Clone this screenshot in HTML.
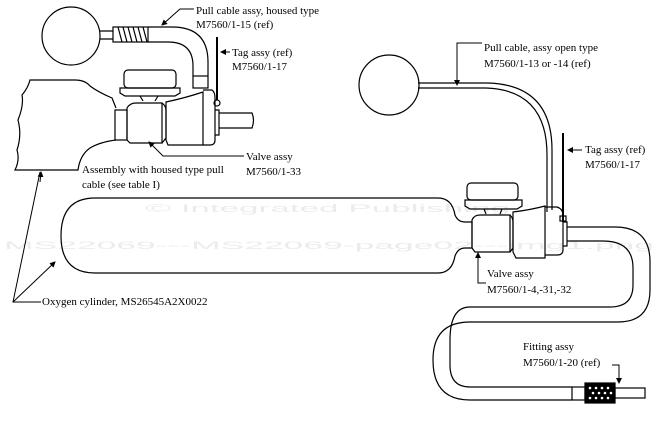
<!DOCTYPE html>
<html><head><meta charset="utf-8"><style>
html,body{margin:0;padding:0;background:#fff;}
svg{display:block;}
text{font-family:"Liberation Serif",serif;font-size:11px;fill:#000;}
.wm{font-family:"Liberation Sans",sans-serif;fill:#ececec;}
</style></head><body>
<svg width="656" height="435" viewBox="0 0 656 435" xmlns="http://www.w3.org/2000/svg">
<defs>
<marker id="ar" markerWidth="6" markerHeight="6" refX="5" refY="3" orient="auto" markerUnits="userSpaceOnUse">
<path d="M0,0 L6,3 L0,6 z" fill="#000"/></marker>
</defs>
<!-- watermark -->
<text class="wm" x="145" y="212" font-size="31" textLength="365" lengthAdjust="spacingAndGlyphs">© Integrated Publishing</text>
<text class="wm" x="4" y="249" font-size="34" textLength="650" lengthAdjust="spacingAndGlyphs">MS22069---MS22069-page02---img1.png</text>

<g fill="none" stroke="#000" stroke-width="1.2">
<!-- top-left assembly -->
<circle cx="71" cy="36" r="29"/>
<path d="M100,31 H113 M100,39 H113"/>
<rect x="113" y="27" width="35" height="15"/>
<path d="M118,27 l4,15 M123,27 l4,15 M128,27 l4,15 M133,27 l4,15 M138,27 l4,15 M143,27 l4,15"/>
<path d="M148,27 H172 Q208,27 208,62 V76"/>
<path d="M148,42 H168 Q193,42 193,66 V76"/>
<rect x="193" y="76" width="15" height="12"/>
<path d="M217,37 V100" stroke-width="2"/>
<circle cx="217" cy="103" r="3"/>
<!-- broken tank -->
<path d="M116,108 L112,98 Q98,92 90,86 Q85,80 75,80 H30 Q28,88 22,95 Q24,105 18,120 Q22,135 17,150 Q20,160 15,170 H78 Q80,155 90,148 Q100,142 116,140"/>
<!-- valve left -->
<rect x="124" y="70" width="52" height="18" rx="4"/>
<path d="M120,88 H180 V93 L175,96 H125 L120,93 Z"/>
<path d="M140,96 L143,101 M158,96 L155,101"/>
<rect x="115" y="110" width="12" height="30"/>
<path d="M127,108 Q130,103 136,103 H162 V143 H130 L127,140 Z"/>
<path d="M162,103 Q166,106 166,110 V138 L162,143"/>
<path d="M166,102 Q185,98 203,92 V145 H168 L166,140 Z"/>
<path d="M203,90 H212 Q215,92 215,98 V140 Q215,145 210,145 H203"/>
<path d="M215,110 H219 V135 H215"/>
<path d="M219,113 H252 Q255,120 252,128 H219"/>
<!-- cylinder -->
<path d="M465,222 Q458,222 455,215 Q452,198 438,198 H95 Q61,198 61,236 Q61,273 95,273 H438 Q452,273 455,256 Q458,248 465,248"/>
<!-- valve right -->
<rect x="467" y="183" width="51" height="17" rx="4"/>
<path d="M465,200 H522 V206 L517,209 H470 L465,206 Z"/>
<path d="M484,209 L486,214 M502,209 L500,214"/>
<path d="M465,222 H472 V248 H465"/>
<path d="M472,220 Q474,215 480,215 H510 V252 H475 L472,248 Z"/>
<path d="M510,215 Q513,218 513,222 V248 L510,252"/>
<path d="M513,212 Q530,210 545,206 V258 H516 L513,252 Z"/>
<path d="M545,207 H557 Q563,209 563,215 V250 Q563,255 557,255 H545"/>
<path d="M563,222 H567 V246 H563"/>
<!-- open type cable -->
<circle cx="389" cy="85" r="30"/>
<path d="M418,83 H488 Q552,85 552,150 V210"/>
<path d="M418,88 H486 Q547,90 547,155 V212"/>
<path d="M563,133 V222" stroke-width="2"/>
<rect x="560" y="216" width="6" height="5"/>
<!-- hose -->
<path d="M567,227 H615 Q650,227 650,262 V290 Q650,322 618,322 H470 Q433,322 433,360 Q433,400 470,400 H572"/>
<path d="M567,241 H603 Q633,241 633,268 V285 Q633,307 610,307 H470 Q450,307 450,340 V365 Q450,387 470,387 H572"/>
<rect x="572" y="387" width="13" height="13"/>
<rect x="585" y="383" width="30" height="20" fill="#000"/>
<rect x="615" y="388" width="30" height="10"/>
</g>
<g fill="#fff">
<circle cx="590" cy="388" r="1.3"/><circle cx="596" cy="388" r="1.3"/><circle cx="602" cy="388" r="1.3"/><circle cx="608" cy="388" r="1.3"/>
<circle cx="593" cy="393" r="1.3"/><circle cx="599" cy="393" r="1.3"/><circle cx="605" cy="393" r="1.3"/><circle cx="611" cy="393" r="1.3"/>
<circle cx="590" cy="398" r="1.3"/><circle cx="596" cy="398" r="1.3"/><circle cx="602" cy="398" r="1.3"/><circle cx="608" cy="398" r="1.3"/>
</g>

<!-- leaders -->
<g fill="none" stroke="#000" stroke-width="1">
<path d="M194,9 H180 L162,25" marker-end="url(#ar)"/>
<path d="M230,52 H221" marker-end="url(#ar)"/>
<path d="M244,156 H163 L149,142" marker-end="url(#ar)"/>
<path d="M482,43 H457 V85" marker-end="url(#ar)"/>
<path d="M582,150 H568" marker-end="url(#ar)"/>
<path d="M486,283 H478 V253" marker-end="url(#ar)"/>
<path d="M612,365 H619 V383" marker-end="url(#ar)"/>
<path d="M41,302 H13 L40,172" />
<path d="M40,182 L41,172" marker-end="url(#ar)"/>
<path d="M13,302 L55,262" marker-end="url(#ar)"/>
</g>

<text x="196" y="14">Pull cable assy, housed type</text>
<text x="196" y="28">M7560/1-15 (ref)</text>
<text x="232" y="56">Tag assy (ref)</text>
<text x="232" y="70">M7560/1-17</text>
<text x="246" y="160">Valve assy</text>
<text x="246" y="175">M7560/1-33</text>
<text x="82" y="173">Assembly with housed type pull</text>
<text x="82" y="188">cable (see table I)</text>
<text x="484" y="51">Pull cable, assy open type</text>
<text x="484" y="67">M7560/1-13 or -14 (ref)</text>
<text x="585" y="153">Tag assy (ref)</text>
<text x="585" y="168">M7560/1-17</text>
<text x="487" y="277">Valve assy</text>
<text x="487" y="293">M7560/1-4,-31,-32</text>
<text x="42" y="305">Oxygen cylinder, MS26545A2X0022</text>
<text x="523" y="350">Fitting assy</text>
<text x="523" y="366">M7560/1-20 (ref)</text>
</svg>
</body></html>
